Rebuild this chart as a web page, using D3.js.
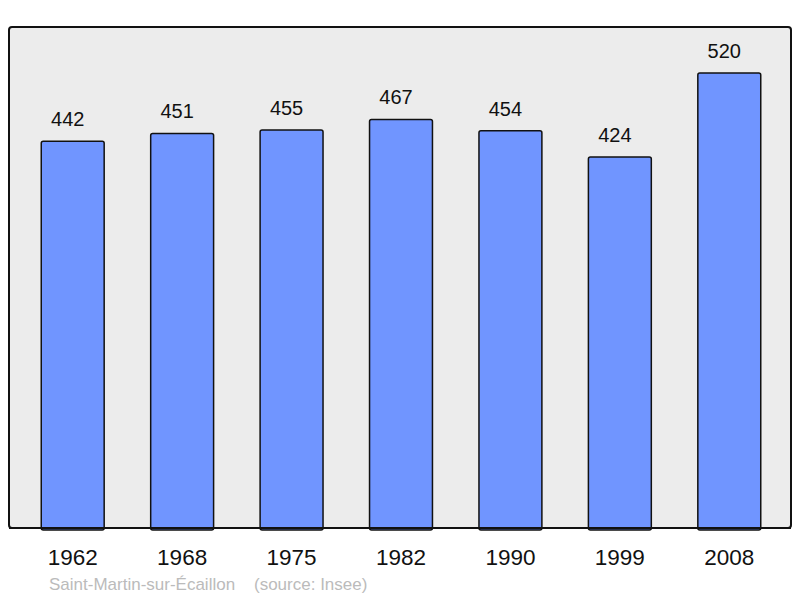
<!DOCTYPE html>
<html>
<head>
<meta charset="utf-8">
<script src="https://cdn.jsdelivr.net/npm/d3@7"></script>
<style>
  body { margin: 0; background: #fff; }
  text { font-family: "Liberation Sans", Arial, sans-serif; }
</style>
</head>
<body>
<svg id="chart" width="800" height="598"></svg>
<script>
const years = ["1962", "1968", "1975", "1982", "1990", "1999", "2008"];
const population = [442, 451, 455, 467, 454, 424, 520];
const place = "Saint-Martin-sur-Écaillon";
const source = "(source: Insee)";

const svg = d3.select("#chart");

// frame of the plot
const frame = { left: 9, top: 27, right: 791, bottom: 528 };

svg.append("rect")
  .attr("x", frame.left)
  .attr("y", frame.top)
  .attr("width", frame.right - frame.left)
  .attr("height", frame.bottom - frame.top)
  .attr("rx", 3)
  .attr("fill", "#ececec")
  .attr("stroke", "#111")
  .attr("stroke-width", 2);

const x = d3.scaleBand()
  .domain(years)
  .range([18, 784])
  .paddingInner(0.425)
  .paddingOuter(0.2125);

const y = d3.scaleLinear()
  .domain([0, 572.6])
  .range([frame.bottom, frame.top]);

const data = years.map((yr, i) => ({ year: yr, value: population[i] }));

svg.append("g")
  .selectAll("rect")
  .data(data)
  .enter().append("rect")
  .attr("x", d => x(d.year))
  .attr("y", d => y(d.value))
  .attr("width", x.bandwidth())
  .attr("height", d => y(0) - y(d.value) + 2)
  .attr("rx", 2)
  .attr("fill", "#7095ff")
  .attr("stroke", "#111")
  .attr("stroke-width", 1.5);

// redraw baseline over bar bottoms
svg.append("line")
  .attr("x1", frame.left).attr("x2", frame.right)
  .attr("y1", frame.bottom).attr("y2", frame.bottom)
  .attr("stroke", "#111")
  .attr("stroke-width", 2);

// value labels sit a little left of the bar centre
svg.append("g")
  .selectAll("text")
  .data(data)
  .enter().append("text")
  .attr("x", d => x(d.year) + x.bandwidth() / 2 - 5)
  .attr("y", d => y(d.value) - 15)
  .attr("text-anchor", "middle")
  .attr("font-size", 20)
  .attr("fill", "#111")
  .text(d => d.value);

// year labels
svg.append("g")
  .selectAll("text")
  .data(years)
  .enter().append("text")
  .attr("x", d => x(d) + x.bandwidth() / 2)
  .attr("y", 565)
  .attr("text-anchor", "middle")
  .attr("font-size", 22.5)
  .attr("fill", "#111")
  .text(d => d);

svg.append("text")
  .attr("x", 49)
  .attr("y", 590)
  .attr("font-size", 17)
  .attr("fill", "#bbb")
  .attr("xml:space", "preserve")
  .text(place + "    " + source);
</script>
</body>
</html>
